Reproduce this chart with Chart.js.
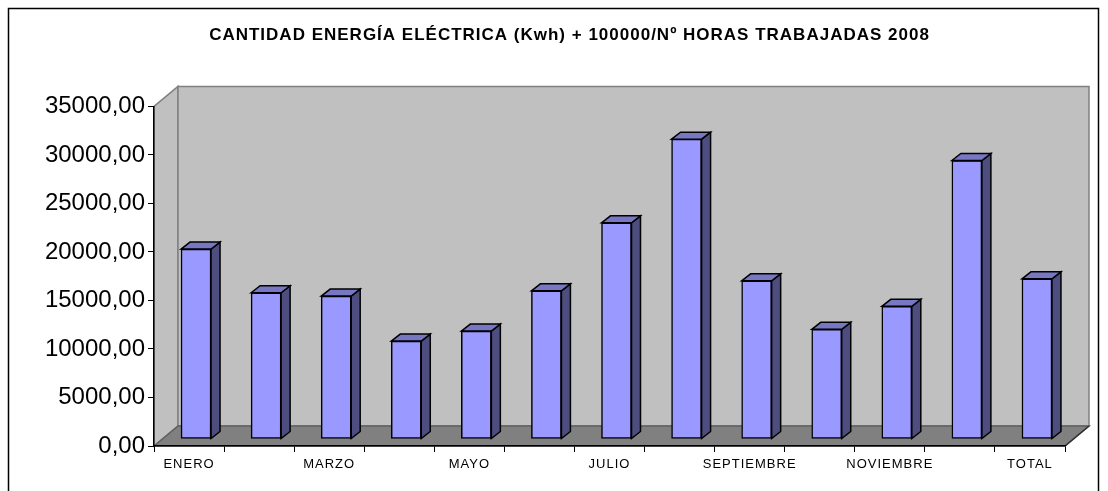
<!DOCTYPE html>
<html>
<head>
<meta charset="utf-8">
<script src="https://cdn.jsdelivr.net/npm/chart.js@4/dist/chart.umd.min.js"></script>
<style>
  html, body { margin: 0; padding: 0; background: #fff; }
  #wrap { width: 1108px; height: 491px; }
</style>
</head>
<body>
<div id="wrap"><canvas id="energyChart" width="1108" height="491"></canvas></div>
<script>
// datos
var categories = ['ENERO', 'FEBRERO', 'MARZO', 'ABRIL', 'MAYO', 'JUNIO', 'JULIO',
                  'AGOSTO', 'SEPTIEMBRE', 'OCTUBRE', 'NOVIEMBRE', 'DICIEMBRE', 'TOTAL'];
var energyValues = [19570, 15070, 14730, 10090, 11120, 15270, 22280,
                    30900, 16300, 11300, 13670, 28700, 16510];
var yMax = 35000;
var yStep = 5000;
var chartTitle = 'CANTIDAD ENERGÍA ELÉCTRICA (Kwh) + 100000/Nº HORAS TRABAJADAS 2008';

// desplazamientos del efecto 3D
var wallDepth = { x: 24, y: -20 };
var barShift = { x: 7, y: -7 };
var barSide = { x: 9, y: -7 };

// paredes, suelo y marco exterior
var walls3d = {
    id: 'walls3d',
    afterLayout: function (chart) {
        // el titulo del original esta un poco a la derecha
        if (chart.titleBlock) {
            chart.titleBlock.left += 32;
            chart.titleBlock.right += 32;
        }
    },
    beforeDraw: function (chart) {
        var c = chart.ctx, a = chart.chartArea;
        var L = a.left, R = a.right, T = a.top, B = a.bottom;
        var dx = wallDepth.x, dy = wallDepth.y;
        c.save();
        c.fillStyle = '#ffffff';
        c.fillRect(0, 0, chart.width, chart.height);
        c.lineWidth = 1.5;
        c.strokeStyle = '#000000';
        c.strokeRect(8.5, 8.5, 1090, 500);

        // pared lateral
        c.beginPath();
        c.moveTo(L, T); c.lineTo(L + dx, T + dy); c.lineTo(L + dx, B + dy); c.lineTo(L, B);
        c.closePath();
        c.fillStyle = '#c0c0c0'; c.fill();
        c.strokeStyle = '#808080'; c.stroke();
        // pared del fondo
        c.beginPath();
        c.rect(L + dx, T + dy, R - L, B - T);
        c.fillStyle = '#c0c0c0'; c.fill();
        c.strokeStyle = '#808080'; c.stroke();
        // suelo
        c.beginPath();
        c.moveTo(L, B); c.lineTo(L + dx, B + dy); c.lineTo(R + dx, B + dy); c.lineTo(R, B);
        c.closePath();
        c.fillStyle = '#808080'; c.fill();
        c.strokeStyle = '#606060'; c.stroke();
        c.beginPath();
        c.moveTo(R, B); c.lineTo(R + dx, B + dy);
        c.strokeStyle = '#303030'; c.stroke();
        c.restore();
        // titulo y etiquetas del eje x algo espaciados, como en Excel
        c.letterSpacing = '1px';
    },
    beforeDatasetsDraw: function (chart) {
        chart.ctx.save();
        chart.ctx.translate(barShift.x, barShift.y);
    },
    afterDatasetsDraw: function (chart) {
        var c = chart.ctx;
        var meta = chart.getDatasetMeta(0);
        c.lineWidth = 1.5;
        c.strokeStyle = '#000000';
        meta.data.forEach(function (bar) {
            var w = bar.width;
            var x0 = bar.x - w / 2, x1 = bar.x + w / 2;
            var yt = bar.y, yb = bar.base;
            // lado
            c.beginPath();
            c.moveTo(x1, yt); c.lineTo(x1 + barSide.x, yt + barSide.y);
            c.lineTo(x1 + barSide.x, yb + barSide.y); c.lineTo(x1, yb);
            c.closePath();
            c.fillStyle = '#4d4d80'; c.fill(); c.stroke();
            // tapa
            c.beginPath();
            c.moveTo(x0, yt); c.lineTo(x0 + barSide.x, yt + barSide.y);
            c.lineTo(x1 + barSide.x, yt + barSide.y); c.lineTo(x1, yt);
            c.closePath();
            c.fillStyle = '#7777c4'; c.fill(); c.stroke();
        });
        c.restore();
        // etiquetas del eje y (z: 1) sin espaciado
        c.letterSpacing = '0px';
    }
};

var ctx = document.getElementById('energyChart').getContext('2d');
var energyChart = new Chart(ctx, {
    type: 'bar',
    data: {
        labels: categories,
        datasets: [{
            data: energyValues,
            backgroundColor: '#9999ff',
            borderColor: '#000000',
            borderWidth: 1.5,
            borderSkipped: false,
            barThickness: 30,
            clip: false
        }]
    },
    options: {
        responsive: false,
        animation: false,
        layout: { padding: { left: 10, right: 43, top: 0, bottom: 0 } },
        plugins: {
            legend: { display: false },
            tooltip: { enabled: false },
            title: {
                display: true,
                text: chartTitle,
                color: '#000000',
                font: { family: 'Liberation Sans, Arial, sans-serif', size: 17, weight: 'bold' },
                padding: { top: 25, bottom: 61 }
            }
        },
        scales: {
            x: {
                grid: { display: true, drawOnChartArea: false, color: '#000000', tickLength: 6, offset: true },
                border: { display: true, color: '#000000', width: 1.5 },
                ticks: {
                    autoSkip: false,
                    maxRotation: 0,
                    padding: 5,
                    color: '#000000',
                    font: { family: 'Liberation Sans, Arial, sans-serif', size: 13 },
                    callback: function (value, index) {
                        return index % 2 === 0 ? categories[index] : '';
                    }
                },
                afterFit: function (scale) { scale.height = 45; }
            },
            y: {
                min: 0,
                max: yMax,
                grid: { display: true, drawOnChartArea: false, color: '#000000', tickLength: 6 },
                border: { display: true, color: '#000000', width: 1.5 },
                ticks: {
                    z: 1,
                    stepSize: yStep,
                    padding: 3,
                    color: '#000000',
                    font: { family: 'Liberation Sans, Arial, sans-serif', size: 24 },
                    callback: function (value) {
                        return value.toFixed(2).replace('.', ',');
                    }
                },
                afterFit: function (scale) { scale.width = 144; }
            }
        }
    },
    plugins: [walls3d]
});
</script>
</body>
</html>
